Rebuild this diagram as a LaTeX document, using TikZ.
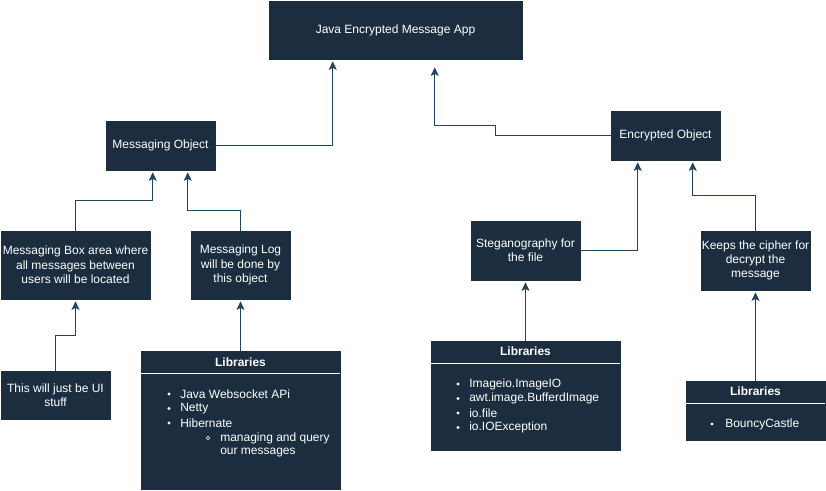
\documentclass[tikz,border=0pt]{standalone}
\usepackage{fontspec}
\setmainfont{Liberation Sans}
\usetikzlibrary{arrows.meta,calc,fit}
\definecolor{boxfill}{HTML}{1B2D3F}
\definecolor{edge}{HTML}{23445D}
\begin{document}
\begin{tikzpicture}[x=0.75pt,y=-0.75pt,
  box/.style={fill=boxfill, draw=boxfill, inner sep=0pt},
  txt/.style={text=white, align=center, inner sep=0pt, font=\fontsize{9}{10.8}\selectfont},
  hdr/.style={text=white, inner sep=0pt, font=\bfseries\fontsize{9}{10.8}\selectfont},
  item/.style={text=white, inner sep=0pt, anchor=west, font=\fontsize{9}{10.8}\selectfont},
  divider/.style={draw=white, line width=0.75pt},
  conn/.style={draw=edge, line width=0.8pt, -{Stealth[length=6.5pt,width=6pt,inset=1.5pt]}},
  bul/.style={fill=white},
  subbul/.style={draw=white, line width=0.5pt}]
\useasboundingbox (0,0) rectangle (826,491);

% main boxes
\node[box, fit={(269,1) (522,59)}, label={[txt]center:Java Encrypted Message App}] (app) {};
\node[box, fit={(106,121) (215,170)}, label={[txt]center:Messaging Object}] (mo) {};
\node[box, fit={(611,111) (720,160)}, label={[txt]center:Encrypted Object}] (eo) {};
\node[box, fit={(1,231) (150,299)}, label={[txt]center:Messaging Box area where\\all messages between\\users will be located}] (mb) {};
\node[box, fit={(191,231) (290,299)}, label={[txt]center:Messaging Log\\will be done by\\this object}] (ml) {};
\node[box, fit={(1,371) (110,419)}, label={[txt]center:This will just be UI\\stuff}] (ui) {};
\node[box, fit={(471,221) (580,280)}, label={[txt]center:Steganography for\\the file}] (st) {};
\node[box, fit={(701,231) (810,290)}, label={[txt]center:Keeps the cipher for\\decrypt the\\message}] (kc) {};

% library boxes
\node[box, fit={(141,351) (340,489)}] (libl) {};
\draw[divider] ($(libl.north west)+(0,23)$) -- ($(libl.north east)+(0,23)$);
\node[hdr] (liblt) at (240.5,362) {Libraries};
\fill[bul] (169,394) circle[radius=1.3pt];
\node[item] (l1) at (180,394) {Java Websocket APi};
\fill[bul] (169,408.5) circle[radius=1.3pt];
\node[item] (l2) at (180,408.5) {Netty};
\fill[bul] (169,423) circle[radius=1.3pt];
\node[item] (l3) at (180,423) {Hibernate};
\draw[subbul] (208,438) circle[radius=1.3pt];
\node[item] (l4) at (220,438) {managing and query};
\node[item] (l5) at (220,452.5) {our messages};

\node[box, fit={(431,341) (620,450)}] (libm) {};
\draw[divider] ($(libm.north west)+(0,23)$) -- ($(libm.north east)+(0,23)$);
\node[hdr] (libmt) at (525.5,351.5) {Libraries};
\fill[bul] (458,384) circle[radius=1.3pt];
\node[item] (m1) at (469,384) {Imageio.ImageIO};
\fill[bul] (458,398.5) circle[radius=1.3pt];
\node[item] (m2) at (469,398.5) {awt.image.BufferdImage};
\fill[bul] (458,413) circle[radius=1.3pt];
\node[item] (m3) at (469,413) {io.file};
\fill[bul] (458,427.5) circle[radius=1.3pt];
\node[item] (m4) at (469,427.5) {io.IOException};

\node[box, fit={(686,381) (825,440)}] (libr) {};
\draw[divider] ($(libr.north west)+(0,23)$) -- ($(libr.north east)+(0,23)$);
\node[hdr] (librt) at (755.5,391) {Libraries};
\fill[bul] (712,424) circle[radius=1.3pt];
\node[item] (r1) at (725,424) {BouncyCastle};

% connectors
\draw[conn] (mo.east) -| ($(app.south west)+(64,2)$);
\draw[conn] (eo.west) -- ($(eo.west)+(-115,0)$) |- ($(eo.west)+(-115,-10)$) -| ($(app.south west)+(166,8)$);
\draw[conn] (mb.north) |- ($(mo.south west)+(47,30)$) -- ($(mo.south west)+(47,2)$);
\draw[conn] (ml.north) |- ($(mo.south west)+(82,40)$) -- ($(mo.south west)+(82,2)$);
\draw[conn] (ui.north) |- ($(mb.south)+(0,36)$) -- ($(mb.south)+(0,2)$);
\draw[conn] (libl.north) -- ($(ml.south)+(0,2)$);
\draw[conn] (st.east) -| ($(eo.south west)+(27,2)$);
\draw[conn] (kc.north) |- ($(eo.south west)+(82,35)$) -- ($(eo.south west)+(82,2)$);
\draw[conn] (libm.north) -- ($(st.south)+(0,2)$);
\draw[conn] (libr.north) -- ($(kc.south)+(0,2)$);
\end{tikzpicture}
\end{document}
